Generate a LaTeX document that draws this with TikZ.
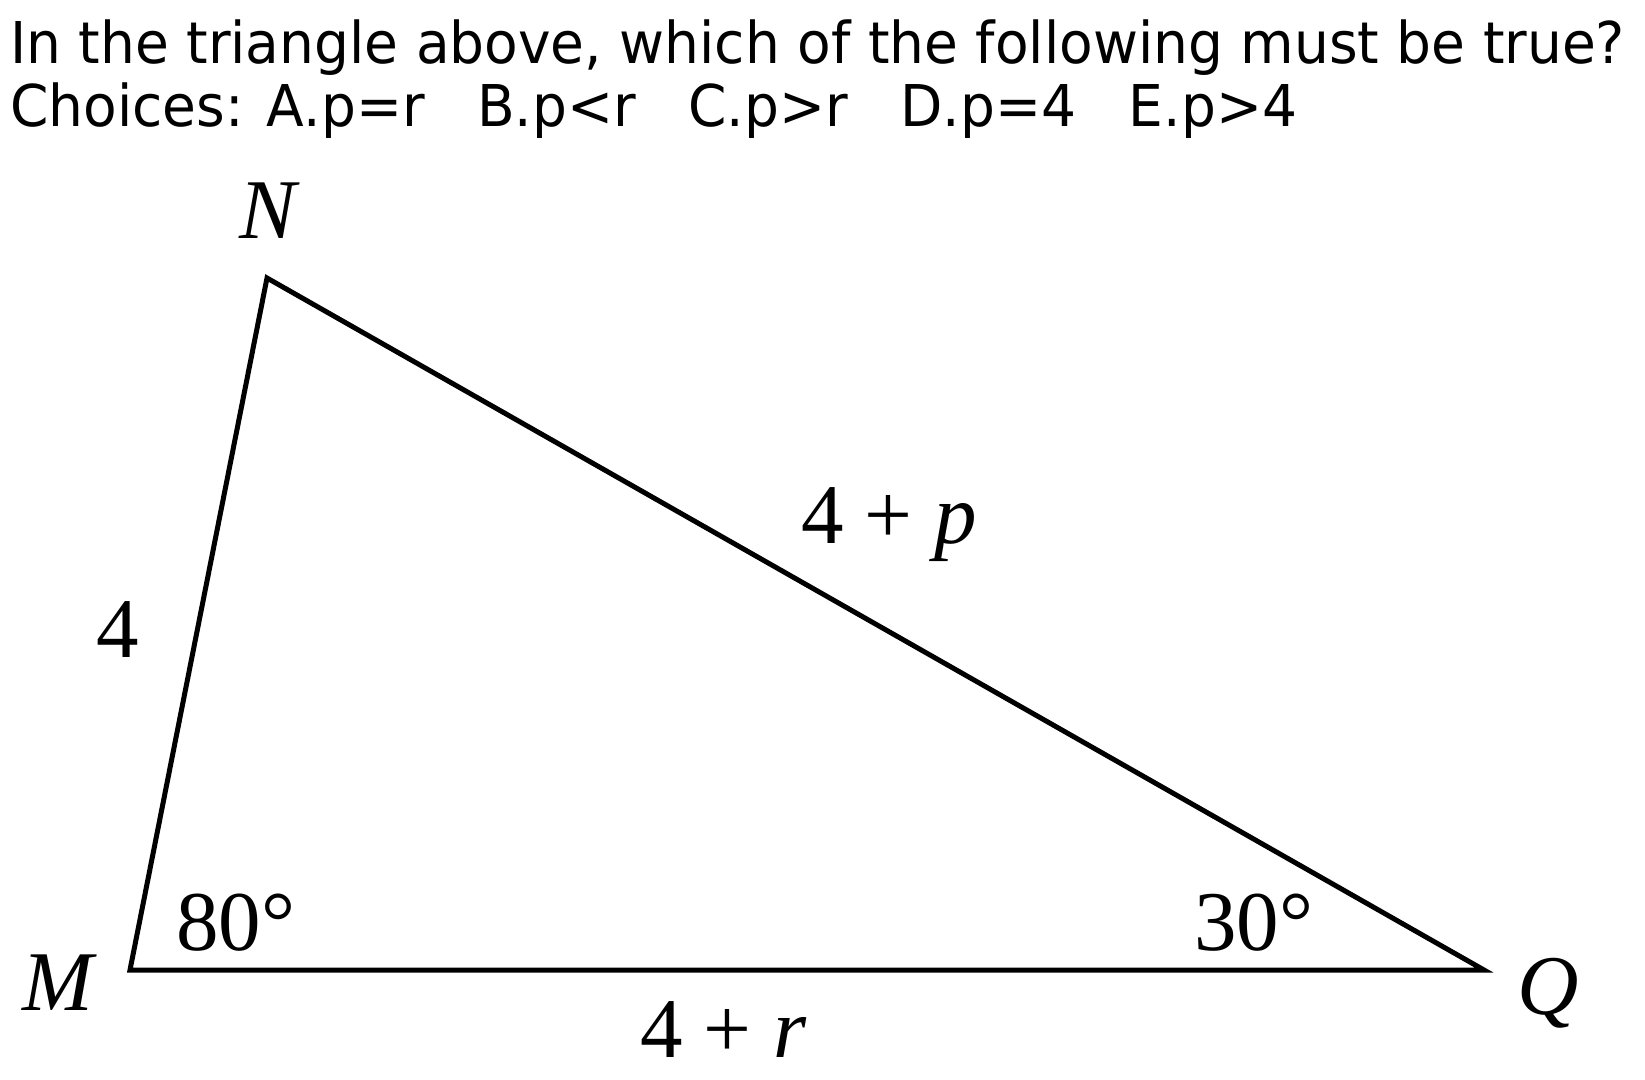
\documentclass[tikz,border=0pt]{standalone}
\usepackage{fontspec}
\usepackage{graphicx}
\setmainfont{DejaVu Sans}
\newfontfamily\labfont{Liberation Serif}
\begin{document}
\begin{tikzpicture}[x=1pt,y=-1pt,
  qtext/.style={anchor=base west,inner sep=0pt,font=\fontsize{57.6}{63}\selectfont},
  lab/.style={inner sep=0pt,font=\fontsize{85}{90}\labfont},
  side/.style={line width=5pt,line join=miter,black}]
\useasboundingbox (0,0) rectangle (1645,1079);
\node[qtext] (q1) at (10,63) {\scalebox{0.955}[1]{In the triangle above, which of the following must be true?}};
\node[qtext] (q2) at (10,126) {\scalebox{0.955}[1]{Choices: A.p=r~~~B.p<r~~~C.p>r~~~D.p=4~~~E.p>4}};
\coordinate (M) at (130,970);
\coordinate (N) at (267,278);
\coordinate (Q) at (1484,970);
\draw[side] (M) -- (N) -- (Q) -- cycle;
\node[lab,anchor=base] (lN) at (268,238) {\itshape N};
\node[lab,anchor=base] (lM) at (58,1010) {\itshape M};
\node[lab,anchor=base] (lQ) at (1548,1014) {\itshape Q};
\node[lab,anchor=base west] (a80) at (176,950) {80°};
\node[lab,anchor=base west] (a30) at (1194,950) {30°};
\node[lab,anchor=base west] (sNQ) at (801,543) {4 + \textit{p}};
\node[lab,anchor=base west] (sMN) at (96,657) {4};
\node[lab,anchor=base west] (sMQ) at (640,1057) {4 + \textit{r}};
\end{tikzpicture}
\end{document}
